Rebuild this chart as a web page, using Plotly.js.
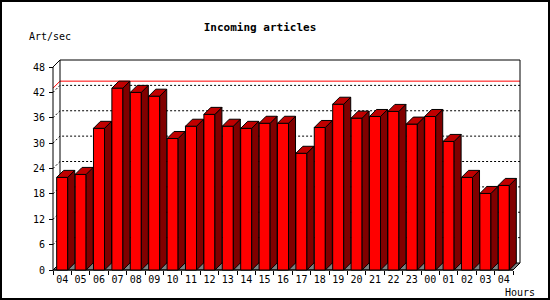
<!DOCTYPE html>
<html><head><meta charset="utf-8">
<script src="https://cdn.plot.ly/plotly-3.0.1.min.js"></script>
<style>
html,body{margin:0;padding:0;background:#fff}
#wrap{position:relative;width:550px;height:300px}
#chart{width:550px;height:300px}
#frame{position:absolute;left:0;top:0;width:550px;height:300px;box-sizing:border-box;border:2px solid #000;pointer-events:none}
</style>
</head><body>
<div id="wrap"><div id="chart"></div><div id="frame"></div></div>
<script>
// ---- data ----
const hours = ['04','05','06','07','08','09','10','11','12','13','14','15','16','17','18','19','20','21','22','23','00','01','02','03','04'];
const artPerSec = [21.9,22.6,33.5,43.0,42.0,41.1,31.1,34.0,36.8,34.0,33.5,34.7,34.7,27.6,33.7,39.2,35.9,36.3,37.5,34.5,36.3,30.4,21.9,18.1,20.0];
const yTicks = [0,6,12,18,24,30,36,42,48];

// ---- geometry (pixels) ----
const L = 50, R = 522, T = 58, B = 272;      // plot area
const X0PX = 53, Y0PX = 270;                  // front axis corner
const SLOT = 18.4;                            // px per category
const PXU = 203 / 48;                          // px per unit
const DEPTH = 7;                              // 3D depth in px
const DX = DEPTH / SLOT, DY = DEPTH / PXU;
const HALF = 0.3;                             // half bar width (categories)
const n = hours.length;
const yTop = yTicks[yTicks.length - 1];
const xs = hours.map((h, i) => i);

const xr = [-0.5 - (X0PX - L) / SLOT, -0.5 + (R - X0PX) / SLOT];
const yr = [-(B - Y0PX) / PXU, (Y0PX - T) / PXU];

// ---- 3D faces ----
const sideX = [], sideY = [], topX = [], topY = [];
artPerSec.forEach((v, i) => {
  const r = i + HALF, l = i - HALF;
  sideX.push(r, r + DX, r + DX, r, r, null);
  sideY.push(0, DY, v + DY, v, 0, null);
  topX.push(l, r, r + DX, l + DX, l, null);
  topY.push(v, v, v + DY, v + DY, v, null);
});

const traces = [
  {type:'bar', x: xs, y: artPerSec, width: 2*HALF,
   marker:{color:'#ff0000', line:{color:'#000', width:1}}, hoverinfo:'skip'},
  {type:'scatter', mode:'lines', x: sideX, y: sideY, fill:'toself',
   fillcolor:'#800000', line:{color:'#000', width:1}, hoverinfo:'skip'},
  {type:'scatter', mode:'lines', x: topX, y: topY, fill:'toself',
   fillcolor:'#c00000', line:{color:'#000', width:1}, hoverinfo:'skip'}
];

// ---- back wall, floor, gridlines ----
const xl = -0.5, xrt = n - 0.5;
const shapes = [];
shapes.push({type:'path', xref:'x', yref:'y', layer:'below',
  path:`M ${xl},0 L ${xrt},0 L ${xrt+DX},${DY} L ${xl+DX},${DY} Z`,
  fillcolor:'#808080', line:{color:'#000', width:1}});
yTicks.filter(v => v > 0 && v < yTop).forEach(v => {
  shapes.push({type:'path', xref:'x', yref:'y', layer:'below',
    path:`M ${xl},${v} L ${xl+DX},${v+DY} L ${xrt+DX},${v+DY}`,
    line:{color:'#000', width:1, dash:'2px,2px'}});
});
const vmax = Math.max(...artPerSec);
shapes.push({type:'path', xref:'x', yref:'y', layer:'below',
  path:`M ${xl},${vmax} L ${xl+DX},${vmax+DY} L ${xrt+DX},${vmax+DY}`,
  line:{color:'#ff0000', width:1}});
shapes.push({type:'path', xref:'x', yref:'y', layer:'below',
  path:`M ${xl+DX},${DY} L ${xl+DX},${yTop+DY} L ${xrt+DX},${yTop+DY} L ${xrt+DX},${DY}`,
  line:{color:'#000', width:1}});
shapes.push({type:'path', xref:'x', yref:'y', layer:'below',
  path:`M ${xl+DX},${yTop+DY} L ${xl},${yTop} L ${xl},0 L ${xrt},0 L ${xrt+DX},${DY}`,
  line:{color:'#000', width:1}});

const boundaries = hours.map((h, i) => i - 0.5).concat([n - 0.5]);
const tickFont = {family:'DejaVu Sans Mono', size:10, color:'#000'};
const px2x = p => (p - L) / (R - L);
const px2y = p => (B - p) / (B - T);

const layout = {
  width:550, height:300,
  margin:{l:L, r:550-R, t:T, b:300-B, pad:0},
  paper_bgcolor:'#fff', plot_bgcolor:'#fff',
  showlegend:false, barmode:'overlay',
  title:{text:'<b>Incoming articles</b>', font:{family:'DejaVu Sans Mono', size:11, color:'#000'},
    xref:'container', yref:'container', x:260/550, y:1-27/300, xanchor:'center', yanchor:'middle'},
  xaxis:{range:xr, anchor:'free', position:(B - Y0PX)/(B - T), showgrid:false, zeroline:false, showline:false,
    tickmode:'array', tickvals:xs, ticktext:hours, ticks:'', tickfont:tickFont, fixedrange:true,
    ticklabelstandoff:2,
    minor:{tickmode:'array', tickvals:boundaries, ticks:'outside', ticklen:4, tickwidth:1, tickcolor:'#000', showgrid:false}},
  yaxis:{range:yr, anchor:'free', position:(X0PX - L)/(R - L), showgrid:false, zeroline:false, showline:false,
    tickmode:'array', tickvals:yTicks, ticks:'outside', ticklen:4, tickwidth:1, tickcolor:'#000',
    tickfont:tickFont, fixedrange:true, ticklabelstandoff:2},
  shapes: shapes,
  annotations:[
    {text:'Art/sec', xref:'paper', yref:'paper', x:px2x(27), y:px2y(37), xanchor:'left', yanchor:'middle',
     showarrow:false, font:tickFont},
    {text:'Hours', xref:'paper', yref:'paper', x:px2x(503), y:px2y(292), xanchor:'left', yanchor:'middle',
     showarrow:false, font:tickFont}
  ]
};

Plotly.newPlot('chart', traces, layout, {staticPlot:true, displayModeBar:false});
</script>
</body></html>
